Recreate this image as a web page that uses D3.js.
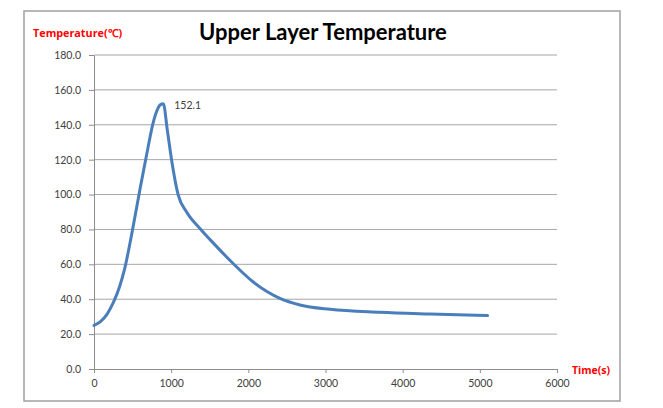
<!DOCTYPE html>
<html>
<head>
<meta charset="utf-8">
<script src="https://cdn.jsdelivr.net/npm/d3@7"></script>
<style>
body { margin: 0; background: #fff; }
svg text { font-family: Lato, "Open Sans", sans-serif; }
svg text.red { font-family: "Open Sans", sans-serif; }
.grid line { stroke: #a6a6a6; stroke-width: 1; }
.axis path, .axis line { stroke: #8c8c8c; }
.axis text { fill: #404040; font-size: 10.5px; }
</style>
</head>
<body>
<script>
// time (s) and temperature (°C)
var times = [0, 80, 170, 250, 330, 400, 500, 600, 700, 760, 810, 860, 898, 950, 1005, 1090, 1200, 1370, 1550, 1800, 2060, 2410, 2670, 3060, 3700, 4350, 5100];
var temps = [25, 27, 31.5, 38, 47, 58, 80, 104, 127, 140, 147.5, 151.5, 152.1, 137, 120, 100, 90, 80.7, 72, 60.6, 50, 40.5, 36.7, 34.2, 32.5, 31.5, 30.6];
var yTicks = [0, 20, 40, 60, 80, 100, 120, 140, 160, 180];
var xTicks = [0, 1000, 2000, 3000, 4000, 5000, 6000];
var peakLabel = "152.1";

var W = 663, H = 408;
var padL = 94, padR = 557, padT = 55, padB = 369;

var svg = d3.select("body").append("svg")
    .attr("width", W)
    .attr("height", H);

// outer chart frame
svg.append("rect")
    .attr("x", 24).attr("y", 11)
    .attr("width", 596).attr("height", 390)
    .attr("fill", "#fff")
    .attr("stroke", "#a0a0a0")
    .attr("stroke-width", 1.5);

var x = d3.scaleLinear().domain([0, 6000]).range([padL, padR]);
var y = d3.scaleLinear().domain([0, 180]).range([padB, padT]);

svg.append("g")
    .attr("class", "grid")
    .selectAll("line")
    .data(yTicks.slice(1))
    .enter().append("line")
    .attr("x1", padL).attr("x2", padR)
    .attr("y1", function (d) { return y(d); })
    .attr("y2", function (d) { return y(d); });

svg.append("g")
    .attr("class", "axis")
    .attr("transform", "translate(" + padL + ",0)")
    .call(d3.axisLeft(y).tickValues(yTicks).tickSize(5).tickSizeOuter(0)
        .tickFormat(d3.format(".1f")))
    .call(function (g) { g.selectAll("text").attr("x", -13); });

svg.append("g")
    .attr("class", "axis")
    .attr("transform", "translate(0," + padB + ")")
    .call(d3.axisBottom(x).tickValues(xTicks).tickSize(4).tickSizeOuter(0)
        .tickFormat(d3.format("d")))
    .call(function (g) { g.selectAll("text").attr("y", 11); });

var pts = times.map(function (t, i) { return [t, temps[i]]; });

svg.append("path")
    .datum(pts)
    .attr("fill", "none")
    .attr("stroke", "#4a7ebb")
    .attr("stroke-width", 3)
    .attr("stroke-linejoin", "round")
    .attr("stroke-linecap", "round")
    .attr("d", d3.line()
        .x(function (d) { return x(d[0]); })
        .y(function (d) { return y(d[1]); })
        .curve(d3.curveMonotoneX));

// peak value label
var peakIdx = temps.indexOf(d3.max(temps));
svg.append("text")
    .attr("x", x(times[peakIdx]) + 11)
    .attr("y", y(temps[peakIdx]) + 5)
    .attr("font-size", 10.5)
    .attr("fill", "#404040")
    .text(peakLabel);

svg.append("text")
    .attr("x", 323).attr("y", 40)
    .attr("text-anchor", "middle")
    .attr("font-size", 22)
    .attr("font-weight", "bold")
    .attr("fill", "#000")
    .text("Upper Layer Temperature");

svg.append("text")
    .attr("class", "red")
    .attr("x", 33).attr("y", 37)
    .attr("font-size", 10.8)
    .attr("font-weight", "bold")
    .attr("fill", "#ff0000")
    .text("Temperature(℃)");

svg.append("text")
    .attr("class", "red")
    .attr("x", 572).attr("y", 374)
    .attr("font-size", 10.5)
    .attr("font-weight", "bold")
    .attr("fill", "#ff0000")
    .text("Time(s)");
</script>
</body>
</html>
